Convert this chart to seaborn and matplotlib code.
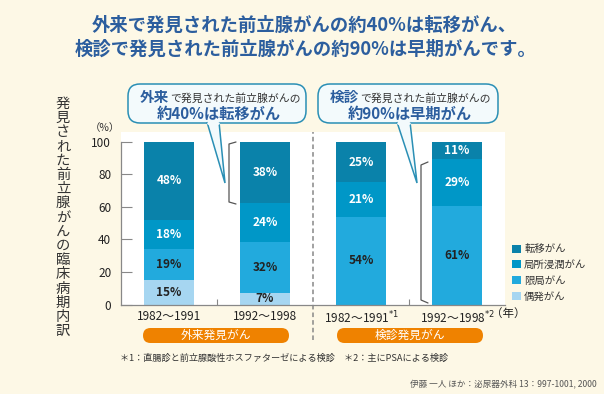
# 前立腺がんの臨床病期内訳 (外来発見 vs 検診発見)

import numpy as np
import pandas as pd
import matplotlib
matplotlib.use('Agg')
import matplotlib.pyplot as plt
import seaborn as sns
from matplotlib.patches import FancyBboxPatch, Patch, Polygon

sns.set_theme(style='white')
plt.rcParams['font.family'] = ['Noto Sans CJK JP', 'DejaVu Sans']
plt.rcParams['mathtext.fontset'] = 'dejavusans'

# ── Data ──────────────────────────────────────────────────────────────────────

periods = ['1982〜1991', '1992〜1998', '1982〜1991$^{*1}$', '1992〜1998$^{*2}$']
stages = ['偶発がん', '限局がん', '局所浸潤がん', '転移がん']      # bottom -> top
incidental = [15, 7, 0, 0]
localized = [19, 32, 54, 61]
local_invasive = [18, 24, 21, 29]
metastatic = [48, 38, 25, 11]
groups = ['外来発見がん', '検診発見がん']

stage_colors = ['#a6d6f1', '#22aadd', '#0097c7', '#0a82aa']
label_colors = ['#222222', '#222222', 'white', 'white']

bg = '#fdf8e6'
title_blue = '#2c5e9e'
dark = '#333333'

# ── Table ─────────────────────────────────────────────────────────────────────

df = pd.DataFrame({'period': periods,
                   stages[0]: incidental,
                   stages[1]: localized,
                   stages[2]: local_invasive,
                   stages[3]: metastatic})
total = df[stages].sum(axis=1)
# printed percentages are rounded, scale each bar to 100
share = df[stages].div(total, axis=0) * 100
cum = share.cumsum(axis=1)
cum['period'] = periods

# ── Figure ────────────────────────────────────────────────────────────────────

fig = plt.figure(figsize=(6.04, 3.94), dpi=100, facecolor=bg)
ax = fig.add_axes([121/604, 1 - 304.5/394, 384/604, 172.5/394])
ax.set_facecolor('white')

# stacked bars: draw cumulative totals from the top segment down
for i in reversed(range(len(stages))):
    sns.barplot(data=cum, x='period', y=stages[i], order=periods, color=stage_colors[i],
                saturation=1, width=0.53, errorbar=None, ax=ax, linewidth=0)

for j in range(len(periods)):
    for i, stage in enumerate(stages):
        v = df[stage][j]
        if v == 0:
            continue
        mid = cum[stage][j] - share[stage][j] / 2
        ax.text(j, mid, f'{v}%', ha='center', va='center', fontsize=8.5,
                color=label_colors[i], weight='bold')

ax.set_xlim(-0.5, 3.5)
ax.set_ylim(0, 106)
ax.set_yticks(range(0, 101, 20))
ax.set_xlabel('')
ax.set_ylabel('')
ax.set_xticks([0.5, 2.5], minor=True)
ax.tick_params(axis='y', direction='in', length=8, width=0.8, color='#888888',
               labelsize=8.5, labelcolor='#222222', pad=7, left=True)
ax.tick_params(axis='x', which='major', length=0, labelsize=8.5, labelcolor='#222222', pad=4)
ax.tick_params(axis='x', which='minor', direction='in', length=4, width=0.8, color='#888888',
               bottom=True)
for lbl in ax.get_xticklabels()[2:]:
    lbl.set_x(lbl.get_position()[0])
for s in ['top', 'right']:
    ax.spines[s].set_visible(False)
ax.spines['left'].set_bounds(0, 100)
for s in ['left', 'bottom']:
    ax.spines[s].set_color('#888888')
    ax.spines[s].set_linewidth(0.9)

# divider between the two groups
ax.plot([1.5, 1.5], [-22, 106], ls=(0, (3, 2)), color='#888888', lw=1.1, clip_on=False)

# legend (top segment first)
handles = [Patch(facecolor=stage_colors[i], edgecolor='none', label=stages[i])
           for i in reversed(range(len(stages)))]
fig.legend(handles=handles, loc='upper left', bbox_to_anchor=(507/604, 1 - 239/394),
           frameon=False, fontsize=7.5, handlelength=0.8, handleheight=0.8,
           handletextpad=0.35, labelspacing=0.55, borderpad=0, labelcolor=dark)

# ── Overlay in pixel coordinates ──────────────────────────────────────────────

ov = fig.add_axes([0, 0, 1, 1], zorder=5)
ov.set_xlim(0, 604)
ov.set_ylim(394, 0)
ov.axis('off')
ov.patch.set_alpha(0)

ov.text(304, 25, '外来で発見された前立腺がんの約40%は転移がん、', ha='center', va='center',
        fontsize=13.2, weight='bold', color=title_blue)
ov.text(306, 49, '検診で発見された前立腺がんの約90%は早期がんです。', ha='center', va='center',
        fontsize=13.2, weight='bold', color=title_blue)

# vertical y label
ylabel = '発見された前立腺がんの臨床病期内訳'
for k, ch in enumerate(ylabel):
    ov.text(63, 104 + k * 14.2, ch, ha='center', va='center', fontsize=10.3, color=dark)
ov.text(105, 128, '（%）', ha='center', va='center', fontsize=7.5, color=dark)
ov.text(508, 313, '（年）', ha='center', va='center', fontsize=8.3, color='#222222')

# balloons
balloons = [(128, 306, '外来', '約40%は転移がん', [(207, 122), (225, 183), (219, 122)]),
            (318, 498, '検診', '約90%は早期がん', [(397, 122), (417, 183), (410, 122)])]
for x0, x1, key, main, tip in balloons:
    box = FancyBboxPatch((x0, 84), x1 - x0, 39, boxstyle='round,pad=0,rounding_size=12',
                         facecolor='#f3fafc', edgecolor='#2a8fb5', lw=1.1)
    ov.add_patch(box)
    ov.add_patch(Polygon(tip, closed=False, facecolor='#f3fafc', edgecolor='#2a8fb5', lw=1.1))
    ov.plot([tip[0][0] + 1, tip[2][0] - 1], [122.5, 122.5], color='#f3fafc', lw=2)
    kx = x0 + 12
    ov.text(kx, 102, key, ha='left', va='baseline', fontsize=10.5, weight='bold',
            color=title_blue)
    ov.text(kx + 30, 102, 'で発見された前立腺がんの', ha='left', va='baseline', fontsize=7.8,
            color=dark)
    ov.text((x0 + x1) / 2 + 2, 114, main, ha='center', va='center', fontsize=11, weight='bold',
            color=title_blue)

# brackets
ov.plot([236, 229, 229, 236], [142, 144, 202, 204], color='#555555', lw=0.9)
ov.plot([428, 421, 421, 428], [162, 165, 300, 303], color='#555555', lw=0.9)

# group pills
for (x0, x1), g in zip([(143, 289), (337, 483)], groups):
    pill = FancyBboxPatch((x0, 328), x1 - x0, 15, boxstyle='round,pad=0,rounding_size=7.5',
                          facecolor='#ef8200', edgecolor='none')
    ov.add_patch(pill)
    ov.text((x0 + x1) / 2, 335.5, g, ha='center', va='center', fontsize=8.5, color='white')

ov.text(120, 358, '＊1：直腸診と前立腺酸性ホスファターゼによる検診　＊2：主にPSAによる検診',
        ha='left', va='center', fontsize=6.6, color=dark)
ov.text(597, 385, '伊藤 一人 ほか：泌尿器外科 13：997-1001, 2000', ha='right', va='center',
        fontsize=6.2, color='#555555')

fig.savefig('out.png', dpi=100, facecolor=bg)
